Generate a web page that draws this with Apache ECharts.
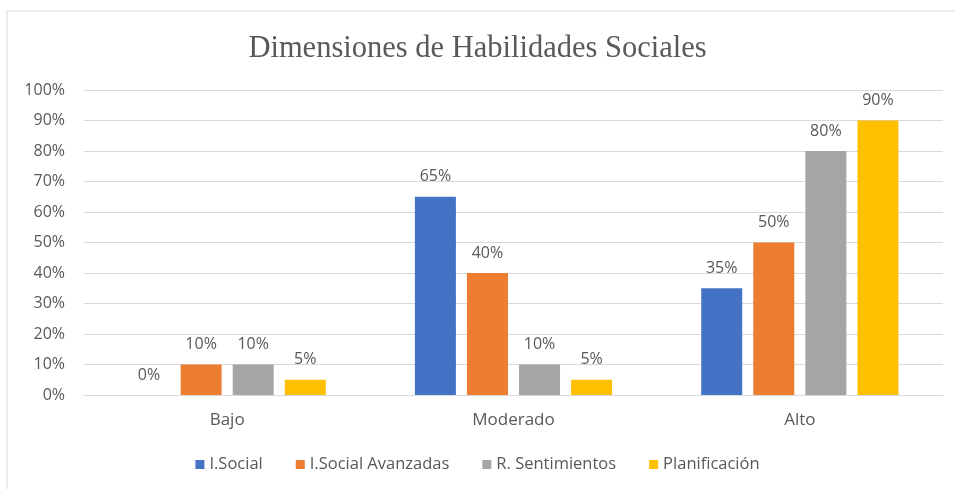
<!DOCTYPE html>
<html>
<head>
<meta charset="utf-8">
<script src="https://cdn.jsdelivr.net/npm/echarts@6/dist/echarts.min.js"></script>
<style>
html,body{margin:0;padding:0;background:#fff;}
#chart{width:955px;height:489px;}
</style>
</head>
<body>
<div id="chart"></div>
<script>
const categories = ['Bajo', 'Moderado', 'Alto'];
const seriesNames = ['I.Social', 'I.Social Avanzadas', 'R. Sentimientos', 'Planificación'];
const iSocial = [0, 65, 35];
const iSocialAvanzadas = [10, 40, 50];
const rSentimientos = [10, 10, 80];
const planificacion = [5, 5, 90];
const colors = ['#4472C4', '#ED7D31', '#A5A5A5', '#FFC000'];
const yTicks = [0, 10, 20, 30, 40, 50, 60, 70, 80, 90, 100];

const font = '"Open Sans", Lato, sans-serif';
const values = [iSocial, iSocialAvanzadas, rSentimientos, planificacion];

const chart = echarts.init(document.getElementById('chart'));
chart.setOption({
  animation: false,
  backgroundColor: '#fff',
  graphic: [{
    type: 'rect',
    shape: { x: 7, y: 11, width: 1000, height: 600 },
    style: { fill: 'none', stroke: '#d9d9d9', lineWidth: 1 },
    silent: true
  }],
  title: {
    text: 'Dimensiones de Habilidades Sociales',
    left: 'center',
    top: 28,
    textStyle: { fontFamily: '"Liberation Serif", "DejaVu Serif", serif', fontSize: 30.5, fontWeight: 'normal', color: '#595959' }
  },
  legend: {
    bottom: 11,
    left: 'center',
    itemWidth: 9,
    itemHeight: 9,
    itemGap: 33,
    icon: 'rect',
    textStyle: { fontFamily: font, fontSize: 16.5, color: '#595959' },
    data: seriesNames
  },
  grid: { left: 84, right: 12, top: 90, bottom: 94, containLabel: false },
  xAxis: {
    type: 'category',
    data: categories,
    axisLine: { show: true, lineStyle: { color: '#d9d9d9' } },
    axisTick: { show: false },
    axisLabel: { fontFamily: font, fontSize: 17, color: '#595959', margin: 17 }
  },
  yAxis: {
    type: 'value',
    min: yTicks[0],
    max: yTicks[yTicks.length - 1],
    interval: 10,
    axisLine: { show: false },
    axisTick: { show: false },
    splitLine: { lineStyle: { color: '#d9d9d9' } },
    axisLabel: { fontFamily: font, fontSize: 16, color: '#595959', margin: 19, formatter: v => v + '%' }
  },
  series: seriesNames.map((name, i) => ({
    name: name,
    type: 'bar',
    data: values[i],
    barWidth: 41,
    barGap: '27%',
    itemStyle: { color: colors[i] },
    label: {
      show: true,
      position: 'top',
      distance: 12,
      formatter: p => p.value + '%',
      fontFamily: font,
      fontSize: 16,
      color: '#595959'
    }
  }))
});
</script>
</body>
</html>
